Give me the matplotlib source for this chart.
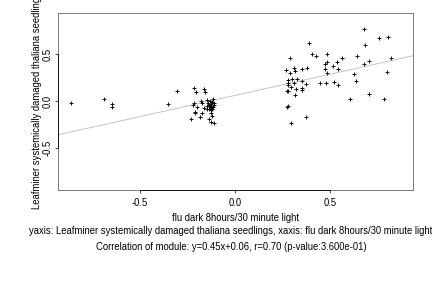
import matplotlib
matplotlib.use("Agg")
import matplotlib.pyplot as plt

x_vals = [-0.864, -0.689, -0.65, -0.65, -0.352, -0.305,
          -0.216, -0.207, -0.163, -0.158, -0.216, -0.221, -0.2, -0.214, -0.214,
          -0.18, -0.175, -0.177, -0.187, -0.232, -0.166, -0.147, -0.116, -0.128,
          -0.121, -0.138, -0.126, -0.114,
          -0.145, -0.14, -0.13, -0.125, -0.135, -0.12, -0.15, -0.13, -0.118,
          -0.14, -0.125, -0.112, -0.135, -0.12, -0.15, -0.11,
          0.679, 0.758, 0.805, 0.684, 0.389, 0.405, 0.425, 0.484, 0.289, 0.563,
          0.642, 0.821, 0.704, 0.679, 0.537, 0.484, 0.474, 0.516, 0.474, 0.539,
          0.484, 0.798, 0.626, 0.637, 0.444, 0.479, 0.521, 0.539, 0.605, 0.705,
          0.781, 0.372, 0.295, 0.27, 0.279,
          0.268, 0.289, 0.311, 0.314, 0.353, 0.377, 0.279, 0.3, 0.326, 0.349,
          0.374, 0.279, 0.311, 0.276, 0.292, 0.321, 0.351, 0.353, 0.276, 0.272,
          0.316]
y_vals = [-0.02, 0.02, -0.035, -0.067, -0.035, 0.106,
          0.138, 0.092, 0.128, 0.092, -0.018, -0.043, -0.067, -0.113, -0.131,
          -0.003, -0.018, -0.131, -0.167, -0.195, -0.071, 0.007, 0.021, -0.131,
          -0.16, -0.195, -0.22, -0.231,
          -0.02, -0.04, -0.03, -0.05, -0.06, -0.01, -0.05, -0.08, -0.06,
          -0.09, -0.1, -0.04, 0.0, -0.08, -0.08, -0.02,
          0.763, 0.67, 0.68, 0.596, 0.614, 0.5, 0.479, 0.5, 0.454, 0.454,
          0.479, 0.454, 0.422, 0.394, 0.415, 0.412, 0.394, 0.372, 0.337, 0.337,
          0.301, 0.309, 0.287, 0.213, 0.195, 0.195, 0.202, 0.167, 0.021, 0.074,
          0.021, -0.17, -0.234, -0.064, -0.057,
          0.326, 0.301, 0.348, 0.323, 0.34, 0.348, 0.223, 0.234, 0.23, 0.213,
          0.184, 0.188, 0.191, 0.167, 0.152, 0.128, 0.138, 0.12, 0.11, 0.103,
          0.064]

slope = 0.45
intercept = 0.06
x_ticks = [-0.5, 0.0, 0.5]
y_ticks = [-0.5, 0.0, 0.5]
xlabel = "flu dark 8hours/30 minute light"
ylabel = "Leafminer systemically damaged thaliana seedlings"
caption1 = "yaxis: Leafminer systemically damaged thaliana seedlings, xaxis: flu dark 8hours/30 minute light"
caption2 = "Correlation of module: y=0.45x+0.06, r=0.70 (p-value:3.600e-01)"

FS = 9.5
plt.rcParams['font.family'] = ['Liberation Sans', 'DejaVu Sans']
fig = plt.figure(figsize=(6, 4), dpi=72)
ax = fig.add_axes([0.134, 0.34, 0.822, 0.615])
xlim = (-0.933, 0.935)
ylim = (-0.947, 0.936)
ax.set_xlim(*xlim)
ax.set_ylim(*ylim)

ax.plot(xlim, [slope * xlim[0] + intercept, slope * xlim[1] + intercept],
        color='#c0c0c0', lw=0.9, zorder=1)
ax.scatter(x_vals, y_vals, marker='+', s=24, c='black', linewidths=0.9, zorder=2)

for s in ax.spines.values():
    s.set_color('#808080')
    s.set_linewidth(1.0)

ax.set_xticks(x_ticks)
ax.set_yticks(y_ticks)
ax.set_xticklabels([f"{t:.1f}" for t in x_ticks])
ax.set_yticklabels([f"{t:.1f}" for t in y_ticks], rotation=90, va='center')
ax.tick_params(axis='both', direction='out', length=3, width=0.7, labelsize=FS)
ax.tick_params(axis='x', pad=5)
ax.tick_params(axis='y', pad=2.5)
# black axis lines spanning tick range (R style)
ax.plot([x_ticks[0], x_ticks[-1]], [ylim[0], ylim[0]], color='black', lw=0.8,
        clip_on=False, zorder=3)
ax.plot([xlim[0], xlim[0]], [y_ticks[0], y_ticks[-1]], color='black', lw=0.8,
        clip_on=False, zorder=3)

ax.set_xlabel(xlabel, fontsize=FS, va='center')
ax.xaxis.set_label_coords(0.5, -0.155)
ax.set_ylabel(ylabel, fontsize=FS, va='center')
ax.yaxis.set_label_coords(-0.059, 0.505)

fig.text(0.535, 1 - 231 / 288, caption1, fontsize=FS, ha='center', va='center')
fig.text(0.535, 1 - 247 / 288, caption2, fontsize=FS, ha='center', va='center')

fig.savefig("out.png", dpi=72)
